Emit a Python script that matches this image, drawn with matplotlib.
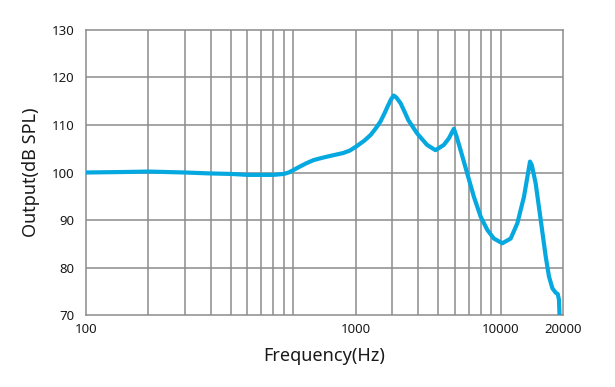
import numpy as np
import matplotlib.pyplot as plt
from matplotlib.ticker import FixedLocator, NullLocator

plt.rcParams['font.family'] = ['Noto Sans', 'DejaVu Sans']

# frequency response
freq_hz = [100, 150, 200, 300, 400, 500, 600, 700, 800, 900, 950, 1000, 1070,
           1150, 1250, 1380, 1510, 1620, 1740, 1870, 2000, 2200, 2360, 2500,
           2630, 2750, 2850, 2960, 3050, 3140, 3290, 3440, 3590, 3960, 4420,
           4850, 5320, 5630, 5850, 5950, 6130, 6410, 6900, 7430, 8010, 8630,
           9280, 10190, 11180, 12040, 12960, 13550, 13860, 14150, 14760,
           15610, 16500, 17110, 17780, 18440, 18860, 19120, 19300]
output_db = [100.0, 100.1, 100.2, 100.0, 99.8, 99.7, 99.5, 99.5, 99.5, 99.7,
             100.0, 100.5, 101.2, 101.9, 102.6, 103.1, 103.5, 103.8, 104.1,
             104.6, 105.4, 106.7, 107.9, 109.3, 110.7, 112.4, 113.9, 115.4,
             116.2, 115.8, 114.6, 112.8, 111.0, 108.2, 105.8, 104.7, 105.8,
             107.2, 108.6, 109.2, 107.6, 104.7, 99.8, 94.9, 90.7, 87.9, 86.1,
             85.1, 86.1, 89.3, 94.9, 99.8, 102.3, 101.5, 97.7, 90.0, 82.3,
             78.1, 75.6, 74.7, 74.4, 73.2, 68.0]

y_ticks = [70, 80, 90, 100, 110, 120, 130]
# labels sit where the original chart put them
x_tick_pos = [100, 2000, 10000, 20000]
x_tick_labels = ['100', '1000', '10000', '20000']

grid_x = list(range(200, 1000, 100)) + list(range(1000, 10001, 1000))

fig = plt.figure(figsize=(6.15, 3.87), dpi=100)
ax = fig.add_axes([0.1398, 0.186, 0.7757, 0.7365])

grey = '#8c8c8c'
for g in grid_x:
    ax.axvline(g, color=grey, lw=1.1, zorder=1)
for t in y_ticks[1:-1]:
    ax.axhline(t, color=grey, lw=1.1, zorder=1)

ax.plot(freq_hz, output_db, color='#06a8e0', lw=3.0,
        solid_joinstyle='round', solid_capstyle='round', zorder=3)

ax.set_xscale('log')
ax.set_xlim(100, 20000)
ax.set_ylim(70, 130)
ax.xaxis.set_major_locator(FixedLocator(x_tick_pos))
ax.xaxis.set_minor_locator(NullLocator())
ax.set_xticklabels(x_tick_labels)
ax.set_yticks(y_ticks)

ax.tick_params(axis='both', length=0, labelsize=9.5, colors='#1a1a1a')
ax.tick_params(axis='y', pad=8.5)
ax.tick_params(axis='x', pad=6)

for s in ax.spines.values():
    s.set_color(grey)
    s.set_linewidth(1.1)

ax.set_xlabel('Frequency(Hz)', fontsize=13, color='#1a1a1a', labelpad=8)
ax.set_ylabel('Output(dB SPL)', fontsize=13, color='#1a1a1a', labelpad=8)

fig.savefig('out.png', dpi=100)
